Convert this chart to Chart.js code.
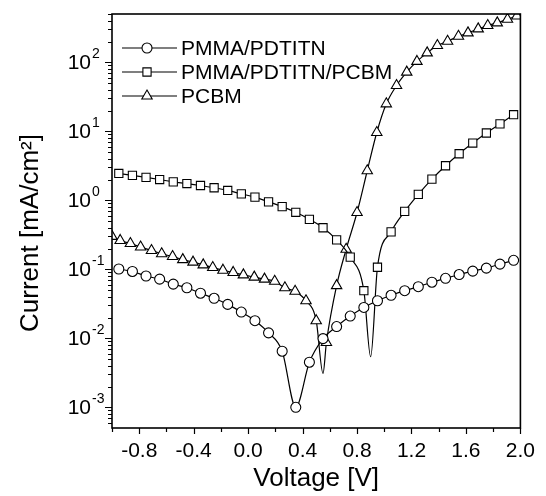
<!DOCTYPE html>
<html>
<head>
<meta charset="utf-8">
<script src="https://cdn.jsdelivr.net/npm/chart.js@4.4.1/dist/chart.umd.min.js"></script>
<style>
  html, body { margin: 0; padding: 0; background: #fff; }
  #wrap { width: 546px; height: 496px; }
</style>
</head>
<body>
<div id="wrap"><canvas id="ivChart" width="546" height="496"></canvas></div>
<script>
// values (V in volts, I in mA/cm2)
const seriesNames = ["PMMA/PDTITN", "PMMA/PDTITN/PCBM", "PCBM"];
const yTitle = "Current [mA/cm²]";

const pdtitnV = [-0.95, -0.85, -0.75, -0.65, -0.55, -0.45, -0.35, -0.25, -0.15, -0.05,
  0.05, 0.15, 0.25, 0.35, 0.45, 0.55, 0.65, 0.75, 0.85, 0.95,
  1.05, 1.15, 1.25, 1.35, 1.45, 1.55, 1.65, 1.75, 1.85, 1.95];
const pdtitnI = [0.101, 0.093, 0.080, 0.072, 0.061, 0.054, 0.045, 0.038, 0.031, 0.024,
  0.018, 0.012, 0.0065, 0.001, 0.0045, 0.0099, 0.0148, 0.021, 0.028, 0.035,
  0.042, 0.049, 0.056, 0.065, 0.074, 0.084, 0.094, 0.104, 0.119, 0.135];

const blendV = [-0.95, -0.85, -0.75, -0.65, -0.55, -0.45, -0.35, -0.25, -0.15, -0.05,
  0.05, 0.15, 0.25, 0.35, 0.45, 0.55, 0.65, 0.75, 0.85, 0.95,
  1.05, 1.15, 1.25, 1.35, 1.45, 1.55, 1.65, 1.75, 1.85, 1.95];
const blendI = [2.45, 2.3, 2.15, 2.0, 1.85, 1.75, 1.64, 1.52, 1.39, 1.24,
  1.11, 0.95, 0.81, 0.67, 0.53, 0.40, 0.267, 0.15, 0.049, 0.107,
  0.349, 0.69, 1.22, 2.03, 3.17, 4.73, 6.76, 9.45, 12.8, 17.4];
// sharp minimum of the blend curve, drawn without a marker
const blendDipV = 0.9;
const blendDipI = 0.0054;

const pcbmV = [-1.0, -0.94, -0.865, -0.79, -0.71, -0.635, -0.555, -0.48, -0.405, -0.33,
  -0.26, -0.185, -0.11, -0.035, 0.045, 0.12, 0.195, 0.27, 0.345, 0.425,
  0.5, 0.575, 0.65, 0.72, 0.8, 0.875, 0.945, 1.015, 1.09, 1.165,
  1.24, 1.315, 1.39, 1.465, 1.545, 1.615, 1.69, 1.76, 1.83, 1.905, 1.975];
const pcbmI = [0.30, 0.262, 0.236, 0.21, 0.187, 0.168, 0.153, 0.138, 0.127, 0.116,
  0.106, 0.097, 0.090, 0.083, 0.077, 0.072, 0.067, 0.054, 0.048, 0.035,
  0.018, 0.0087, 0.058, 0.195, 0.665, 2.68, 9.6, 25, 46, 72,
  103, 137, 175, 202, 238, 267, 305, 341, 373, 420, 470];
const pcbmDipV = 0.55;
const pcbmDipI = 0.0031;

const xTicks = [-0.8, -0.4, 0.0, 0.4, 0.8, 1.2, 1.6, 2.0];
const yDecades = [-3, -2, -1, 0, 1, 2];

const FONT = "'Liberation Sans', Arial, Helvetica, sans-serif";
const markerR = { circle: 5, rect: 5.8, triangle: 6 };

function toPoints(xs, ys, dipV, dipI) {
  let pts = xs.map((x, i) => ({ x: x, y: ys[i] }));
  if (dipV !== undefined) {
    pts.push({ x: dipV, y: dipI, dip: true });
    pts.sort((a, b) => a.x - b.x);
  }
  return pts;
}

function makeSet(label, pts, style) {
  return {
    label: label,
    data: pts,
    borderColor: "#000",
    borderWidth: 1.2,
    backgroundColor: "#fff",
    pointStyle: style,
    pointBackgroundColor: "#fff",
    pointBorderColor: "#000",
    pointBorderWidth: 1.1,
    pointRadius: (c) => (c.raw && c.raw.dip ? 0 : markerR[style]),
    pointHoverRadius: 0,
    cubicInterpolationMode: "monotone",
    fill: false,
  };
}

// same shapes as Chart.js point styles, for the legend
function markerPath(ctx, style, x, y, r) {
  ctx.beginPath();
  if (style === "circle") {
    ctx.arc(x, y, r, 0, Math.PI * 2);
  } else if (style === "rect") {
    const s = r * Math.SQRT1_2;
    ctx.rect(x - s, y - s, 2 * s, 2 * s);
  } else {
    ctx.moveTo(x, y - r);
    ctx.lineTo(x + 0.866 * r, y + 0.5 * r);
    ctx.lineTo(x - 0.866 * r, y + 0.5 * r);
    ctx.closePath();
  }
}

const frameAndAxes = {
  id: "frameAndAxes",
  afterDatasetsDraw(chart) {
    const { ctx, chartArea: a, scales } = chart;
    const xs = scales.x, ys = scales.y;
    ctx.save();
    ctx.strokeStyle = "#000";
    ctx.lineWidth = 1.6;
    ctx.strokeRect(a.left, a.top, a.right - a.left, a.bottom - a.top);

    // x ticks, every 0.2 V, longer where labelled
    ctx.lineWidth = 1.2;
    ctx.beginPath();
    for (let i = 0; i <= 15; i++) {
      const v = -1 + i * 0.2;
      const px = Math.round(xs.getPixelForValue(v)) + 0.5;
      const major = xTicks.some((t) => Math.abs(t - v) < 1e-6);
      ctx.moveTo(px, a.bottom);
      ctx.lineTo(px, a.bottom + (major ? 6 : 4));
    }
    // y ticks, decades long, 2..9 short
    for (let d = -4; d <= 2; d++) {
      for (let m = 1; m <= 9; m++) {
        const v = m * Math.pow(10, d);
        if (v < ys.min * 0.999 || v > ys.max * 1.001) continue;
        const py = Math.round(ys.getPixelForValue(v)) + 0.5;
        ctx.moveTo(a.left, py);
        ctx.lineTo(a.left - (m === 1 ? 7 : 4), py);
      }
    }
    ctx.stroke();

    // y labels as 10 with a raised exponent
    ctx.fillStyle = "#000";
    yDecades.forEach((k) => {
      const py = ys.getPixelForValue(Math.pow(10, k));
      ctx.font = "21px " + FONT;
      ctx.textAlign = "right";
      ctx.textBaseline = "middle";
      ctx.fillText("10", 91, py + 1);
      ctx.font = "14px " + FONT;
      ctx.textAlign = "left";
      ctx.fillText(String(k), 92, py - 8);
    });

    // y axis title, a little below the middle of the axis as in the figure
    ctx.save();
    ctx.translate(31, (a.top + a.bottom) / 2 + 12);
    ctx.rotate(-Math.PI / 2);
    ctx.font = "26px " + FONT;
    ctx.textAlign = "center";
    ctx.textBaseline = "middle";
    ctx.fillText(yTitle, 0, 0);
    ctx.restore();

    // legend: line, marker, name
    const styles = ["circle", "rect", "triangle"];
    const rowY = [48, 72, 96];
    seriesNames.forEach((name, i) => {
      const yy = rowY[i];
      ctx.lineWidth = 1.2;
      ctx.beginPath();
      ctx.moveTo(122, yy);
      ctx.lineTo(177, yy);
      ctx.stroke();
      markerPath(ctx, styles[i], 147, yy, markerR[styles[i]]);
      ctx.fillStyle = "#fff";
      ctx.fill();
      ctx.lineWidth = 1.1;
      ctx.stroke();
      ctx.fillStyle = "#000";
      ctx.font = "21px " + FONT;
      ctx.textAlign = "left";
      ctx.textBaseline = "middle";
      ctx.fillText(name, 181, yy + 1);
    });
    ctx.restore();
  },
};

const ctx = document.getElementById("ivChart").getContext("2d");
const ivChart = new Chart(ctx, {
  type: "line",
  data: {
    datasets: [
      makeSet(seriesNames[0], toPoints(pdtitnV, pdtitnI), "circle"),
      makeSet(seriesNames[1], toPoints(blendV, blendI, blendDipV, blendDipI), "rect"),
      makeSet(seriesNames[2], toPoints(pcbmV, pcbmI, pcbmDipV, pcbmDipI), "triangle"),
    ],
  },
  plugins: [frameAndAxes],
  options: {
    responsive: false,
    animation: false,
    devicePixelRatio: 1,
    layout: { padding: { left: 0, right: 16, top: 14, bottom: 0 } },
    plugins: {
      legend: { display: false },
      tooltip: { enabled: false },
    },
    scales: {
      x: {
        type: "linear",
        position: "bottom",
        min: -1,
        max: 2,
        afterFit: (s) => { s.height = 68; },
        afterBuildTicks: (s) => { s.ticks = xTicks.map((v) => ({ value: v })); },
        grid: { display: false, drawTicks: false },
        border: { display: false },
        ticks: {
          color: "#000",
          font: { family: FONT, size: 21 },
          padding: 11,
          maxRotation: 0,
          autoSkip: false,
          callback: (v) => Number(v).toFixed(1),
        },
        title: {
          display: true,
          text: "Voltage [V]",
          color: "#000",
          font: { family: FONT, size: 26 },
          padding: { top: 0, bottom: 2 },
        },
      },
      y: {
        type: "logarithmic",
        min: Math.pow(10, -3.3),
        max: Math.pow(10, 2.7),
        afterFit: (s) => { s.width = 112; },
        grid: { display: false, drawTicks: false },
        border: { display: false },
        ticks: { display: false },
        title: { display: false },
      },
    },
  },
});
</script>
</body>
</html>
